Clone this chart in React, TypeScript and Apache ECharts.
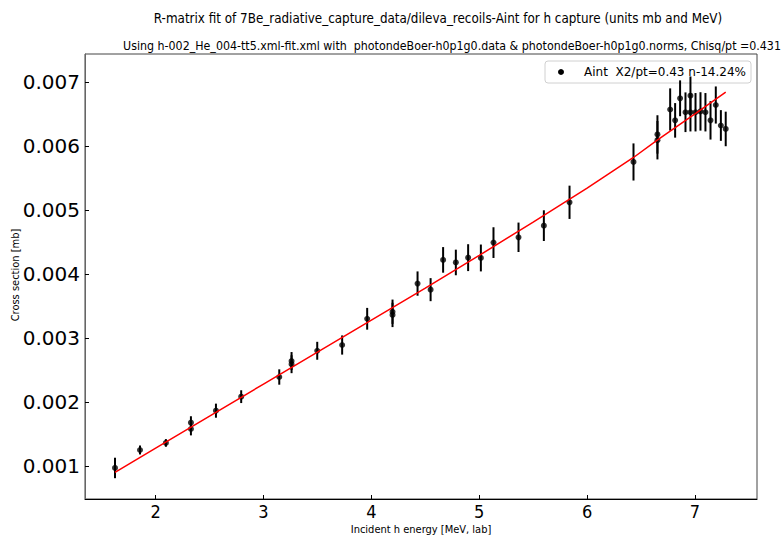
import React, { useEffect, useRef } from "react";
import * as echarts from "echarts";

const energies = [1.623, 1.855, 2.095, 2.327, 2.327, 2.559, 2.793, 3.146, 3.26, 3.26, 3.498, 3.729, 3.961, 4.196, 4.196, 4.428, 4.549, 4.665, 4.783, 4.897, 5.015, 5.132, 5.364, 5.599, 5.837, 6.43, 6.652, 6.652, 6.77, 6.816, 6.862, 6.912, 6.958, 6.958, 7.005, 7.051, 7.097, 7.144, 7.193, 7.24, 7.285];
const sigmas = [0.000969, 0.00125, 0.00136, 0.001677, 0.001578, 0.001864, 0.002083, 0.00239, 0.00264, 0.00259, 0.0028, 0.00289, 0.0033, 0.00341, 0.00336, 0.00385, 0.003755, 0.00422, 0.00418, 0.004255, 0.00425, 0.00449, 0.004573, 0.004755, 0.00512, 0.00575, 0.00618, 0.00609, 0.00657, 0.0064, 0.006745, 0.006527, 0.006786, 0.006527, 0.006527, 0.00654, 0.006527, 0.0064, 0.00664, 0.00632, 0.006266];
const errors = [0.00016, 0.00007, 0.00006, 0.0001, 0.0001, 0.00011, 0.0001, 0.00012, 0.00014, 0.00014, 0.00014, 0.00015, 0.00017, 0.00019, 0.00019, 0.00019, 0.00018, 0.0002, 0.0002, 0.00021, 0.00021, 0.00024, 0.00023, 0.00024, 0.00026, 0.00029, 0.0003, 0.0003, 0.00033, 0.00027, 0.00028, 0.00031, 0.0003, 0.0003, 0.0003, 0.0003, 0.0003, 0.0003, 0.00029, 0.00024, 0.00027];
const fitEnergies = [1.623, 2.0, 2.5, 3.0, 3.5, 4.0, 4.5, 5.0, 5.5, 6.0, 6.43, 6.65, 7.0, 7.285];
const fitSigmas = [0.0009, 0.00128, 0.00178, 0.00228, 0.00278, 0.00328, 0.00378, 0.00429, 0.00481, 0.00534, 0.00582, 0.00609, 0.0065, 0.00684];
const xTicks = [2, 3, 4, 5, 6, 7];
const yTicks = [0.001, 0.002, 0.003, 0.004, 0.005, 0.006, 0.007];

const titleLine1 = "R-matrix fit of 7Be_radiative_capture_data/dileva_recoils-Aint for h capture (units mb and MeV)";
const titleLine2 = "Using h-002_He_004-tt5.xml-fit.xml with  photondeBoer-h0p1g0.data & photondeBoer-h0p1g0.norms, Chisq/pt =0.431";
const legendLabel = "Aint  X2/pt=0.43 n-14.24%";
const xName = "Incident h energy [MeV, lab]";
const yName = "Cross section [mb]";

const COND = "'DejaVu Sans Condensed', 'DejaVu Sans', sans-serif";
const SANS = "'DejaVu Sans', sans-serif";

export default function App() {
  const ref = useRef<HTMLDivElement>(null);
  useEffect(() => {
    if (!ref.current) return;
    const chart = echarts.init(ref.current, undefined, { renderer: "svg" });
    const option: any = {
      animation: false,
      backgroundColor: "#fff",
      grid: { left: 85, right: 26, top: 54, bottom: 38, show: true, borderColor: "#444", borderWidth: 1 },
      xAxis: {
        type: "value",
        min: 1.345,
        max: 7.575,
        splitLine: { show: false },
        axisLine: { show: true, onZero: false, lineStyle: { color: "#000", width: 1 } },
        axisTick: { show: true, inside: true, length: 4, customValues: xTicks, lineStyle: { color: "#000" } },
        axisLabel: { customValues: xTicks, fontSize: 18, color: "#000", fontFamily: COND, margin: 3 },
      },
      yAxis: {
        type: "value",
        min: 0.000484,
        max: 0.007437,
        splitLine: { show: false },
        axisLine: { show: true, onZero: false, lineStyle: { color: "#666", width: 1 } },
        axisTick: { show: true, inside: true, length: 4, customValues: yTicks, lineStyle: { color: "#000" } },
        axisLabel: {
          customValues: yTicks,
          fontSize: 20,
          color: "#000",
          fontFamily: SANS,
          margin: 5,
          formatter: (v: number) => v.toFixed(3),
        },
      },
      graphic: [
        { type: "text", x: 438, y: 18, style: { text: titleLine1, font: `13.3px ${COND}`, fill: "#000", textAlign: "center", textVerticalAlign: "middle" } },
        { type: "text", x: 452, y: 46, style: { text: titleLine2, font: `12.3px ${COND}`, fill: "#000", textAlign: "center", textVerticalAlign: "middle" } },
        { type: "text", x: 421, y: 529, style: { text: xName, font: `11px ${COND}`, fill: "#000", textAlign: "center", textVerticalAlign: "middle" } },
        { type: "text", x: 15, y: 275, rotation: Math.PI / 2, style: { text: yName, font: `11px ${COND}`, fill: "#000", textAlign: "center", textVerticalAlign: "middle" } },
        {
          type: "group",
          z: 100,
          children: [
            { type: "rect", shape: { x: 545, y: 61, width: 206, height: 22, r: 3 }, style: { fill: "rgba(255,255,255,0.85)", stroke: "#d0d0d0", lineWidth: 1 } },
            { type: "circle", shape: { cx: 561, cy: 72, r: 3 }, style: { fill: "#000" } },
            { type: "text", x: 584, y: 72, style: { text: legendLabel.replace("  ", " \u00a0"), font: `12px ${SANS}`, fill: "#000", textVerticalAlign: "middle" } },
          ],
        },
      ],
      series: [
        {
          type: "custom",
          z: 2,
          data: energies.map((e, i) => [e, sigmas[i] - errors[i], sigmas[i] + errors[i]]),
          encode: { x: 0, y: [1, 2] },
          renderItem: (_params: any, api: any) => {
            const p1 = api.coord([api.value(0), api.value(1)]);
            const p2 = api.coord([api.value(0), api.value(2)]);
            return {
              type: "line",
              shape: { x1: p1[0], y1: p1[1], x2: p2[0], y2: p2[1] },
              style: { stroke: "#000", lineWidth: 2 },
            };
          },
        },
        {
          type: "scatter",
          z: 3,
          symbolSize: 6,
          itemStyle: { color: "#000" },
          data: energies.map((e, i) => [e, sigmas[i]]),
        },
        {
          type: "line",
          z: 4,
          showSymbol: false,
          lineStyle: { color: "#ff0000", width: 1.5 },
          data: fitEnergies.map((e, i) => [e, fitSigmas[i]]),
        },
      ],
    };
    chart.setOption(option);
    return () => chart.dispose();
  }, []);
  return <div ref={ref} style={{ position: "fixed", left: 0, top: 0, width: 783, height: 537 }} />;
}
